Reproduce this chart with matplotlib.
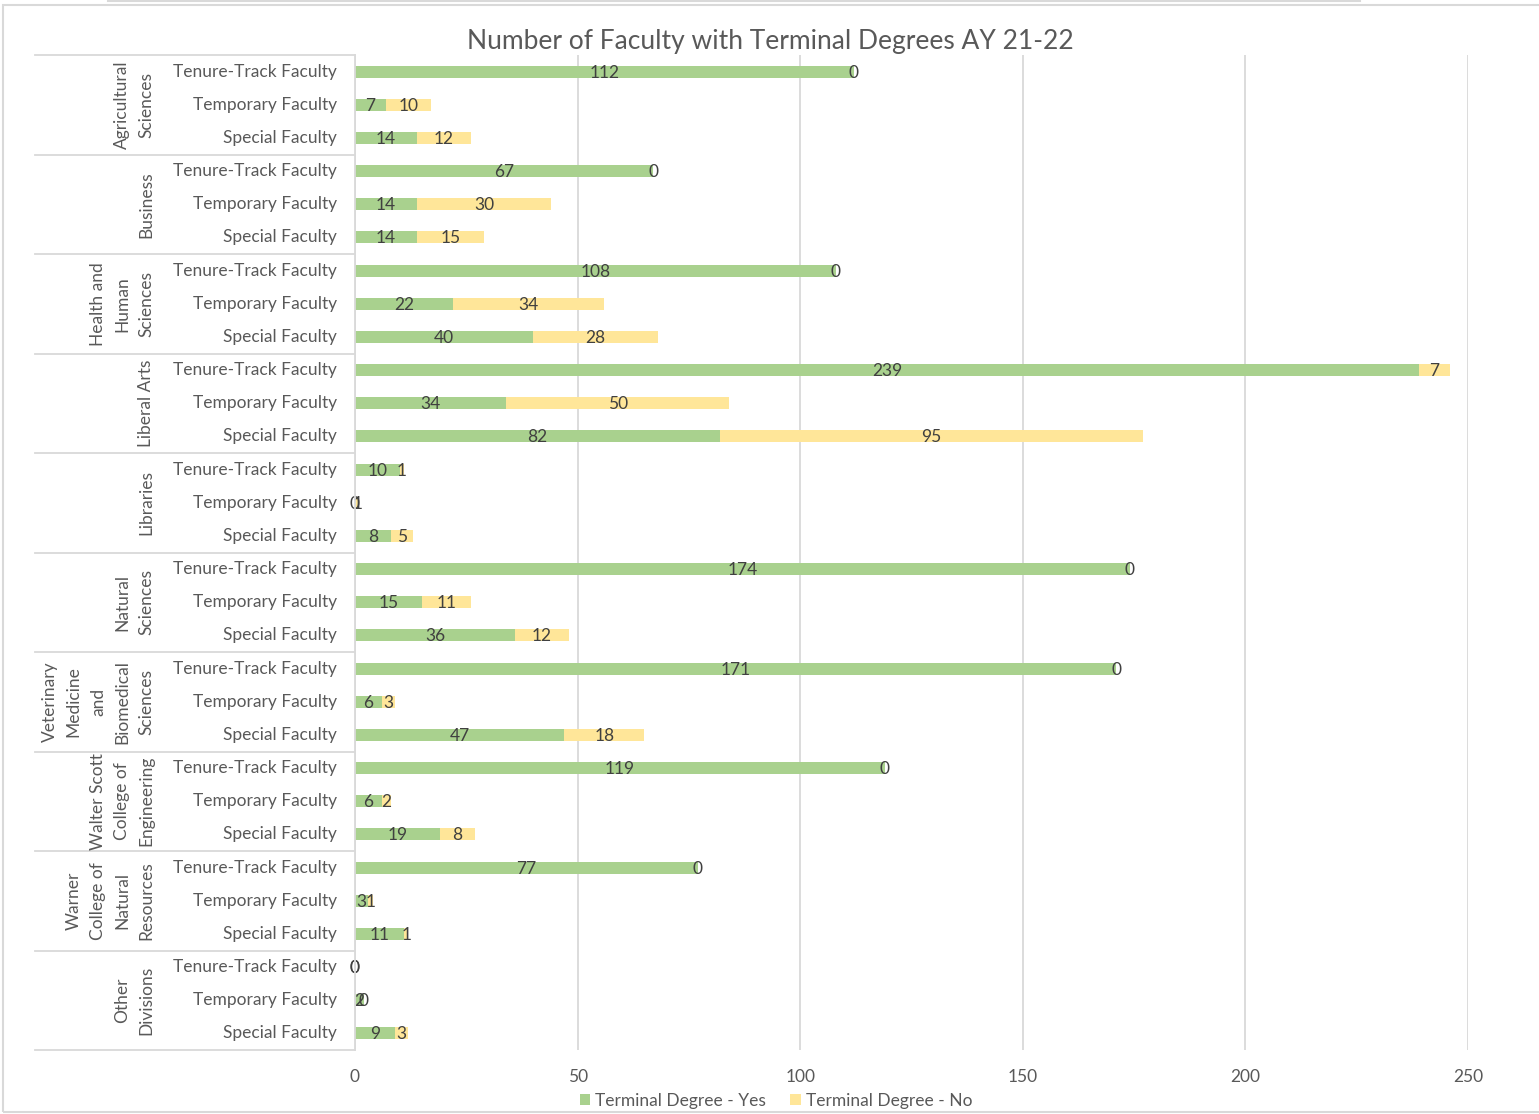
import matplotlib
matplotlib.use("Agg")
import matplotlib.pyplot as plt
from matplotlib.transforms import blended_transform_factory
from matplotlib.patches import Rectangle, Patch
from matplotlib.lines import Line2D
import numpy as np

plt.rcParams['font.family'] = ['Lato', 'DejaVu Sans']

title = "Number of Faculty with Terminal Degrees AY 21-22"
groups = [
    "Agricultural\nSciences",
    "Business",
    "Health and\nHuman\nSciences",
    "Liberal Arts",
    "Libraries",
    "Natural\nSciences",
    "Veterinary\nMedicine\nand\nBiomedical\nSciences",
    "Walter Scott\nCollege of\nEngineering",
    "Warner\nCollege of\nNatural\nResources",
    "Other\nDivisions",
]
faculty_types = ["Tenure-Track Faculty", "Temporary Faculty", "Special Faculty"]
degree_yes = [112, 7, 14, 67, 14, 14, 108, 22, 40, 239, 34, 82, 10, 0, 8,
              174, 15, 36, 171, 6, 47, 119, 6, 19, 77, 3, 11, 0, 2, 9]
degree_no = [0, 10, 12, 0, 30, 15, 0, 34, 28, 7, 50, 95, 1, 1, 5,
             0, 11, 12, 0, 3, 18, 0, 2, 8, 0, 1, 1, 0, 0, 3]
x_ticks = [0, 50, 100, 150, 200, 250]
series_names = ["Terminal Degree - Yes", "Terminal Degree - No"]

GREEN = "#A9D18E"
YELLOW = "#FFE699"
TEXT = "#595959"
LABEL = "#404040"
GRID = "#D9D9D9"
FS = 12.5

W, H = 1539, 1114
fig = plt.figure(figsize=(W / 100, H / 100), dpi=100)

def fx(p):
    return p / W

def fy(p):
    return 1 - p / H

ax = fig.add_axes([fx(355), fy(1050), fx(1468) - fx(355), fy(55) - fy(1050)])

n_rows = len(degree_yes)
rows = np.arange(n_rows)
yes = np.array(degree_yes)
no = np.array(degree_no)

ax.barh(rows, yes, height=0.36, color=GREEN, zorder=3)
ax.barh(rows, no, left=yes, height=0.36, color=YELLOW, zorder=3)

for r in rows:
    ax.text(yes[r] / 2, r + 0.03, str(yes[r]), ha='center', va='center',
            fontsize=FS, color=LABEL, zorder=4)
    ax.text(yes[r] + no[r] / 2, r + 0.03, str(no[r]), ha='center', va='center',
            fontsize=FS, color=LABEL, zorder=4)

ax.set_xlim(0, 250)
ax.set_ylim(n_rows - 0.5, -0.5)
ax.set_xticks(x_ticks)
ax.set_xticklabels([str(t) for t in x_ticks])
ax.tick_params(axis='x', length=0, pad=14, labelsize=FS, labelcolor=TEXT)
ax.set_yticks([])
ax.grid(axis='x', color=GRID, linewidth=1.3, zorder=0)
for s in ['top', 'right', 'bottom']:
    ax.spines[s].set_visible(False)
ax.spines['left'].set_color(GRID)
ax.spines['left'].set_linewidth(1.3)
ax.spines['left'].set_zorder(5)

# category axis: faculty type labels, group labels and separators
tr = blended_transform_factory(fig.transFigure, ax.transData)
for r in rows:
    ax.text(fx(337), r, faculty_types[r % 3], transform=tr, ha='right',
            va='center', fontsize=FS, color=TEXT)
n_types = len(faculty_types)
for g, name in enumerate(groups):
    center = g * n_types + (n_types - 1) / 2
    ax.text(fx(154), center, name, transform=tr, rotation=90, ha='right',
            va='center', multialignment='center', fontsize=FS, color=TEXT,
            linespacing=1.62)
for b in range(len(groups) + 1):
    yb = b * n_types - 0.5
    ax.add_line(Line2D([fx(35), fx(355)], [yb, yb], transform=tr, color=GRID,
                       linewidth=1.3, clip_on=False))

fig.text(fx(770), fy(41), title, ha='center', va='center', fontsize=19,
         color=TEXT)

handles = [Patch(facecolor=GREEN), Patch(facecolor=YELLOW)]
fig.legend(handles, series_names, loc='center',
           bbox_to_anchor=(fx(776), fy(1101)), ncol=2, frameon=False,
           handlelength=0.6, handleheight=0.6, handletextpad=0.3,
           columnspacing=1.4, fontsize=FS, labelcolor=TEXT)

# chart frame
fig.patches.append(Rectangle((fx(3), fy(1112)), fx(1545) - fx(3), fy(5) - fy(1112),
                             transform=fig.transFigure, fill=False,
                             edgecolor=GRID, linewidth=1.5))
fig.lines.append(Line2D([fx(108), fx(1360)], [fy(0.5), fy(0.5)],
                        transform=fig.transFigure, color=GRID, linewidth=1.5))

fig.savefig("out.png", dpi=100, facecolor="white")
